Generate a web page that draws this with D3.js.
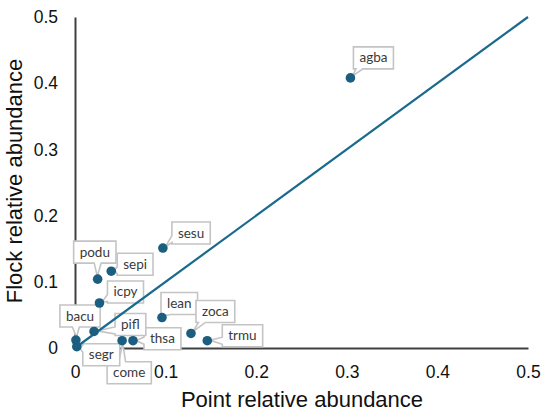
<!DOCTYPE html>
<html>
<head>
    <meta charset="utf-8">
    <script src="https://d3js.org/d3.v7.min.js"></script>
    <style type="text/css">
        body { margin: 0; background: #fff; }
        .tick text { font-family: "Liberation Sans", Arial, sans-serif; font-size: 17.5px; fill: #111; }
        .title { font-family: "Liberation Sans", Arial, sans-serif; font-size: 22px; fill: #111; }
        .lab { font-family: Lato, "Open Sans", sans-serif; font-size: 13.5px; fill: #3a3a3a; }
    </style>
</head>
<body>
<script type="text/javascript">
    // species codes and their relative abundances
    var species = ["agba", "sesu", "podu", "sepi", "icpy", "lean", "zoca",
                   "trmu", "thsa", "come", "pifl", "bacu", "segr"];
    var pointAbundance = [0.304, 0.097, 0.025, 0.040, 0.027, 0.096, 0.128,
                          0.146, 0.064, 0.052, 0.021, 0.001, 0.002];
    var flockAbundance = [0.408, 0.151, 0.104, 0.116, 0.068, 0.046, 0.022,
                          0.011, 0.011, 0.011, 0.025, 0.012, 0.002];
    var tickValues = [0, 0.1, 0.2, 0.3, 0.4, 0.5];

    // where each callout box sits relative to its point (pixels)
    var labelOffset = {
        agba: [3, -31], sesu: [9, -26], podu: [-24, -38], sepi: [6, -18],
        icpy: [8, -22], lean: [-1, -25], zoca: [5, -33], trmu: [15, -16],
        thsa: [11, -13], come: [-15, 21], pifl: [21, -18], bacu: [-16, -35],
        segr: [6, -3]
    };

    var W = 550, H = 415;
    var svg = d3.select("body").append("svg").attr("width", W).attr("height", H);

    var x = d3.scaleLinear().domain([0, 0.5]).range([75, 528]);
    var y = d3.scaleLinear().domain([0, 0.5]).range([348, 17]);
    var fmt = function(d) { return d === 0 ? "0" : d.toFixed(1); };

    var gx = svg.append("g").attr("transform", "translate(0," + y(0) + ")")
        .call(d3.axisBottom(x).tickValues(tickValues).tickFormat(fmt).tickSize(0).tickPadding(18));
    var gy = svg.append("g").attr("transform", "translate(" + x(0) + ",0)")
        .call(d3.axisLeft(y).tickValues(tickValues).tickFormat(fmt).tickSize(0).tickPadding(17));
    [gx, gy].forEach(function(g) {
        g.select(".domain").attr("stroke", "#404040").attr("stroke-width", 2);
        g.selectAll(".tick line").remove();
    });

    svg.append("text").attr("class", "title")
        .attr("x", 302).attr("y", 407).attr("text-anchor", "middle")
        .text("Point relative abundance");
    svg.append("text").attr("class", "title")
        .attr("transform", "translate(21.5,181) rotate(-90)")
        .attr("text-anchor", "middle")
        .text("Flock relative abundance");

    var data = species.map(function(s, i) {
        return { name: s, px: pointAbundance[i], fl: flockAbundance[i] };
    });

    // callouts: box with a wedge pointing at the point
    function calloutPath(bx, by, w, h, px, py) {
        var dxo = px < bx ? bx - px : (px > bx + w ? px - bx - w : 0);
        var dyo = py < by ? by - py : (py > by + h ? py - by - h : 0);
        var hw = 3.5, c, p;
        var clamp = function(v, a, b) { return Math.max(a, Math.min(b, v)); };
        // pull tip back a bit so it touches the dot edge
        var cx = bx + w / 2, cy = by + h / 2;
        var len = Math.hypot(cx - px, cy - py) || 1;
        var tip = [px + (cx - px) / len * 3, py + (cy - py) / len * 3];
        if (dxo > dyo) {
            c = clamp(py, by + 5, by + h - 5);
            if (px < bx) {
                p = [[bx, by], [bx + w, by], [bx + w, by + h], [bx, by + h],
                     [bx, c + hw], tip, [bx, c - hw]];
            } else {
                p = [[bx, by], [bx + w, by], [bx + w, c - hw], tip, [bx + w, c + hw],
                     [bx + w, by + h], [bx, by + h]];
            }
        } else {
            c = clamp(px, bx + 6, bx + w - 6);
            if (py > by + h) {
                p = [[bx, by], [bx + w, by], [bx + w, by + h], [c + hw, by + h], tip,
                     [c - hw, by + h], [bx, by + h]];
            } else {
                p = [[bx, by], [c - hw, by], tip, [c + hw, by], [bx + w, by],
                     [bx + w, by + h], [bx, by + h]];
            }
        }
        return "M" + p.map(function(q) { return q[0] + "," + q[1]; }).join("L") + "Z";
    }

    var labels = svg.append("g");
    data.forEach(function(d) {
        var px = x(d.px), py = y(d.fl);
        var off = labelOffset[d.name];
        var g = labels.append("g");
        var t = g.append("text").attr("class", "lab").text(d.name);
        var tw = t.node().getComputedTextLength();
        var w = tw + 12, h = 22;
        var bx = px + off[0], by = py + off[1];
        g.insert("path", "text")
            .attr("d", calloutPath(bx, by, w, h, px, py))
            .attr("fill", "#fff").attr("stroke", "#c4c4c4").attr("stroke-width", 1.6);
        t.attr("x", bx + w / 2).attr("y", by + h / 2 + 4.5).attr("text-anchor", "middle");
    });

    // 1:1 reference line
    svg.append("line")
        .attr("x1", x(0)).attr("y1", y(0))
        .attr("x2", x(0.5)).attr("y2", y(0.5))
        .attr("stroke", "#1a6a8e").attr("stroke-width", 2.2);

    svg.append("g").selectAll("circle").data(data).join("circle")
        .attr("cx", function(d) { return x(d.px); })
        .attr("cy", function(d) { return y(d.fl); })
        .attr("r", 4.8)
        .attr("fill", "#1b5e80");
</script>
</body>
</html>
